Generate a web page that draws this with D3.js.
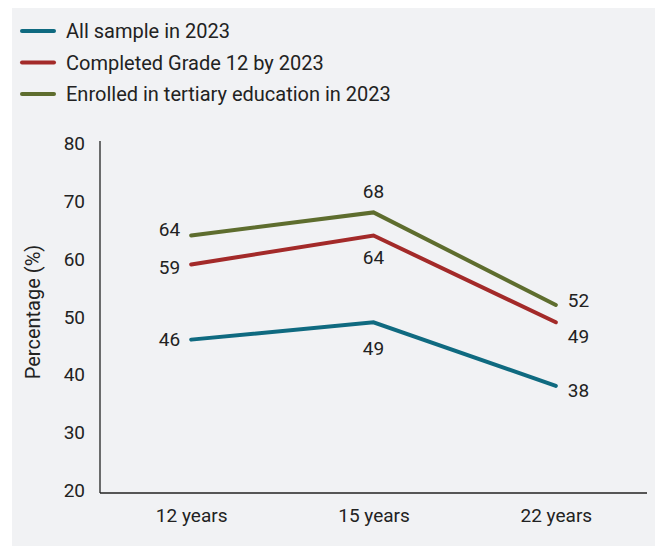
<!DOCTYPE html>
<html><head><meta charset="utf-8">
<script src="https://cdn.jsdelivr.net/npm/d3@7"></script>
<style>
html,body{margin:0;padding:0;background:#fff;}
svg{display:block;}
text{font-family:Roboto,"Noto Sans",sans-serif;fill:#222;}
</style></head>
<body>
<svg id="chart" width="655" height="546"></svg>
<script>
const categories = ["12 years", "15 years", "22 years"];
const seriesNames = ["All sample in 2023", "Completed Grade 12 by 2023", "Enrolled in tertiary education in 2023"];
const allSample = [46, 49, 38];
const completedGrade12 = [59, 64, 49];
const enrolledTertiary = [64, 68, 52];
const yTicks = [20, 30, 40, 50, 60, 70, 80];
const colors = ["#0f6a80", "#a32a29", "#5e6d2e"];

const series = [
  {name: seriesNames[0], values: allSample, color: colors[0], pos: ["l", "b", "r"], dys: [0, 26, 4]},
  {name: seriesNames[1], values: completedGrade12, color: colors[1], pos: ["l", "b", "r"], dys: [3, 22, 14]},
  {name: seriesNames[2], values: enrolledTertiary, color: colors[2], pos: ["l", "t", "r"], dys: [-6, -21, -5]}
];

const svg = d3.select("#chart");
svg.append("rect").attr("x", 12).attr("y", 8).attr("width", 643).attr("height", 538).attr("fill", "#f1f2f4");

const x = d3.scalePoint().domain(categories).range([100, 647]).padding(0.5);
const y = d3.scaleLinear().domain([20, 80]).range([490, 143]);

// y axis labels
const yAxis = d3.axisLeft(y).tickValues(yTicks).tickSize(0).tickPadding(0);
const gy = svg.append("g").attr("transform", "translate(85,0)").call(yAxis);
gy.select(".domain").remove();
gy.selectAll("text").style("font-size", "19px").style("font-family", "Roboto,sans-serif").attr("fill", "#222").attr("dy", "0.35em");

// axis lines
svg.append("line").attr("x1", 100).attr("x2", 100).attr("y1", y(80) - 2).attr("y2", y(20) + 3).attr("stroke", "#222").attr("stroke-width", 1.3);
const xAxis = d3.axisBottom(x).tickSize(0).tickPadding(0);
const gx = svg.append("g").attr("transform", `translate(0,${y(20) + 3})`).call(xAxis);
gx.select(".domain").attr("d", "M100,0H647").attr("stroke", "#222").attr("stroke-width", 1.5);
gx.selectAll("text").style("font-size", "19px").style("font-family", "Roboto,sans-serif").attr("fill", "#222").attr("y", 29).attr("dy", "0");

// y title
svg.append("text").attr("transform", "translate(40,312) rotate(-90)").attr("text-anchor", "middle")
  .style("font-size", "20px").text("Percentage (%)");

const line = d3.line().x((d, i) => x(categories[i])).y(d => y(d));
series.forEach(s => {
  svg.append("path").datum(s.values).attr("d", line).attr("fill", "none")
    .attr("stroke", s.color).attr("stroke-width", 4).attr("stroke-linecap", "round").attr("stroke-linejoin", "miter");
});
series.forEach(s => {
  s.values.forEach((v, i) => {
    const p = s.pos[i];
    const tx = x(categories[i]) + (p === "l" ? -11 : p === "r" ? 12 : 0);
    const anchor = p === "l" ? "end" : p === "r" ? "start" : "middle";
    svg.append("text").attr("x", tx).attr("y", y(v) + s.dys[i]).attr("dy", "0.35em")
      .attr("text-anchor", anchor).style("font-size", "19px").text(v);
  });
});

// legend
const leg = svg.append("g");
series.forEach((s, i) => {
  const ly = 31 + i * 31.5;
  leg.append("line").attr("x1", 22).attr("x2", 54).attr("y1", ly).attr("y2", ly)
    .attr("stroke", s.color).attr("stroke-width", 4).attr("stroke-linecap", "round");
  leg.append("text").attr("x", 66).attr("y", ly).attr("dy", "0.35em").style("font-size", "20px").text(s.name);
});
</script>
</body></html>
